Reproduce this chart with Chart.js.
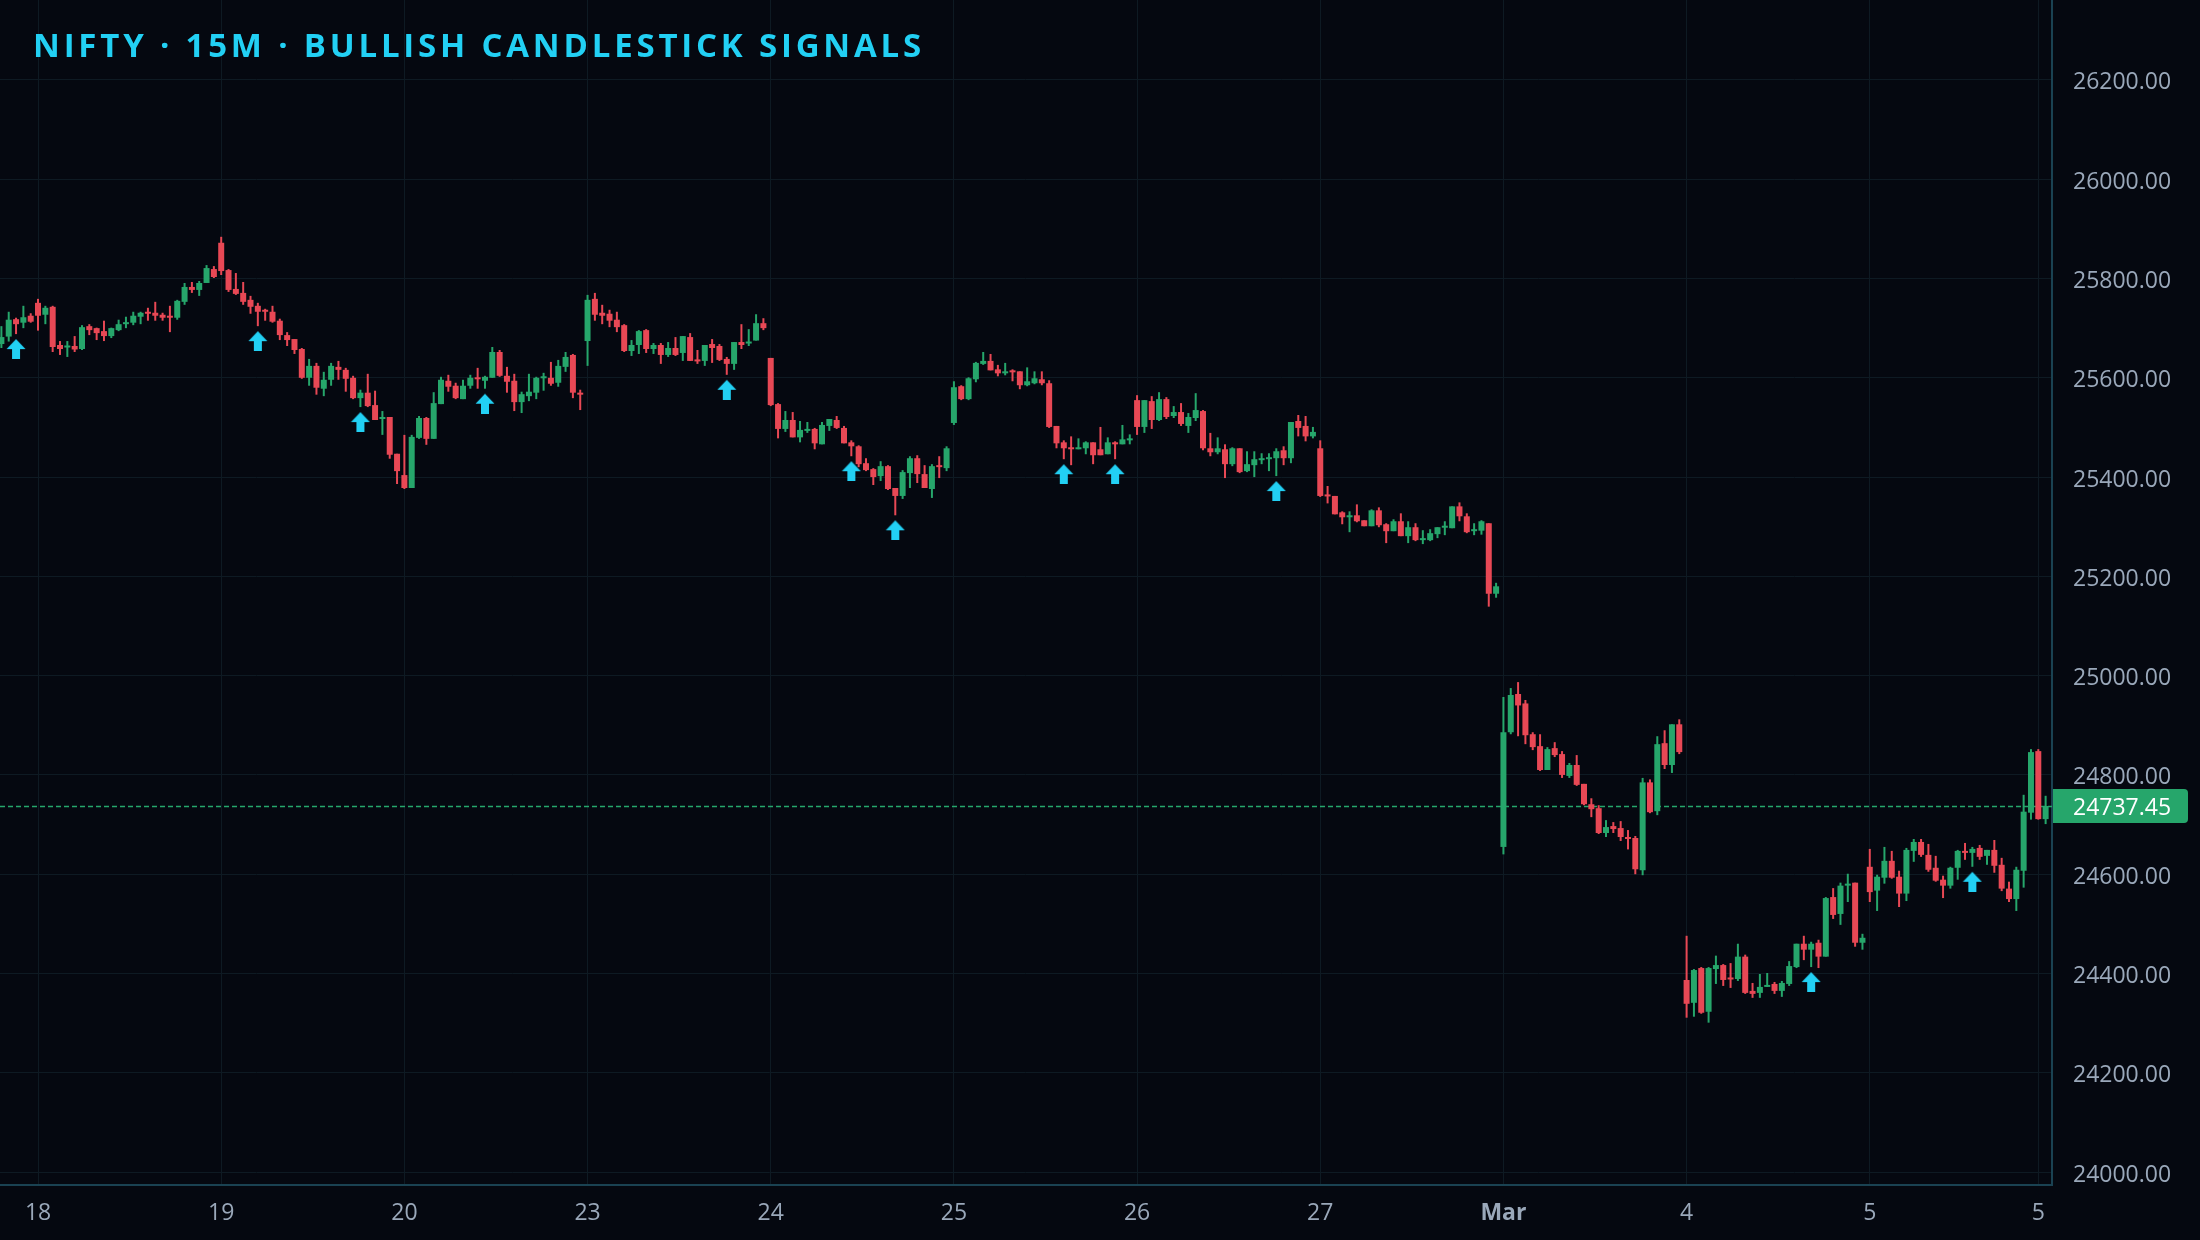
<!DOCTYPE html>
<html>
<head>
<meta charset="utf-8">
<script src="https://cdn.jsdelivr.net/npm/chart.js@4.4.1/dist/chart.umd.min.js"></script>
<style>
  html, body { margin: 0; padding: 0; background: #050810; }
  canvas { display: block; }
</style>
</head>
<body>
<canvas id="chart" width="2200" height="1240"></canvas>
<script>
// 15m candles, first visible bar sits at index -5 (tail of the previous session)
const firstIndex = -5;

const opens = [
  25668, 25683, 25718, 25711, 25725,
  // 18
  25751, 25727, 25743, 25666, 25661, 25664, 25658, 25704, 25700, 25694, 25684, 25696, 25708, 25711, 25723, 25731, 25731, 25727, 25723, 25721, 25753, 25783, 25777, 25791, 25819,
  // 19
  25872, 25817, 25779, 25771, 25757, 25745, 25737, 25733, 25715, 25686, 25678, 25658, 25600, 25624, 25578, 25596, 25622, 25616, 25600, 25559, 25570, 25545, 25517, 25521, 25447,
  // 20
  25404, 25378, 25479, 25519, 25477, 25547, 25594, 25584, 25557, 25584, 25600, 25594, 25600, 25652, 25604, 25594, 25551, 25563, 25570, 25599, 25600, 25590, 25622, 25646, 25570,
  // 23
  25674, 25759, 25731, 25729, 25717, 25706, 25654, 25666, 25696, 25658, 25666, 25646, 25660, 25650, 25682, 25636, 25634, 25668, 25664, 25638, 25628, 25672, 25669, 25675, 25710,
  // 24
  25640, 25547, 25497, 25515, 25480, 25493, 25497, 25466, 25503, 25515, 25499, 25470, 25462, 25428, 25416, 25402, 25422, 25378, 25362, 25408, 25438, 25406, 25376, 25424, 25418,
  // 25
  25509, 25583, 25557, 25597, 25628, 25634, 25617, 25609, 25613, 25613, 25585, 25589, 25597, 25589, 25503, 25470, 25460, 25456, 25458, 25470, 25456, 25446, 25470, 25466, 25474,
  // 26
  25555, 25501, 25553, 25515, 25557, 25523, 25531, 25503, 25519, 25533, 25458, 25450, 25456, 25426, 25458, 25412, 25424, 25434, 25436, 25438, 25454, 25438, 25513, 25503, 25482,
  // 27
  25458, 25364, 25362, 25329, 25319, 25323, 25313, 25301, 25333, 25305, 25291, 25311, 25281, 25299, 25273, 25273, 25285, 25298, 25297, 25341, 25321, 25291, 25292, 25307, 25165,
  // Mar
  24655, 24886, 24963, 24944, 24882, 24858, 24810, 24854, 24842, 24798, 24820, 24782, 24741, 24733, 24683, 24697, 24693, 24675, 24673, 24608, 24785, 24727, 24864, 24820, 24902,
  // 4
  24387, 24341, 24411, 24323, 24409, 24417, 24390, 24389, 24434, 24365, 24361, 24373, 24379, 24365, 24379, 24413, 24460, 24448, 24462, 24434, 24554, 24520, 24577, 24583, 24462,
  // 5
  24615, 24567, 24593, 24627, 24595, 24561, 24647, 24665, 24639, 24613, 24589, 24577, 24613, 24647, 24643, 24653, 24637, 24649, 24619, 24571, 24550, 24607, 24724,
  24848, 24711,
];

const highs = [
  25704, 25733, 25721, 25745, 25730,
  25759, 25745, 25745, 25674, 25674, 25684, 25706, 25708, 25701, 25715, 25701, 25717, 25723, 25733, 25733, 25741, 25753, 25731, 25745, 25757, 25791, 25793, 25795, 25827, 25825,
  25884, 25819, 25811, 25793, 25765, 25751, 25739, 25745, 25719, 25692, 25678, 25660, 25638, 25630, 25612, 25630, 25634, 25620, 25604, 25576, 25608, 25574, 25533, 25521, 25447,
  25485, 25485, 25523, 25521, 25571, 25602, 25606, 25590, 25596, 25606, 25620, 25604, 25662, 25656, 25622, 25608, 25572, 25608, 25602, 25610, 25632, 25636, 25652, 25648, 25576,
  25767, 25771, 25747, 25737, 25733, 25708, 25676, 25696, 25698, 25670, 25670, 25672, 25682, 25684, 25690, 25656, 25666, 25678, 25668, 25642, 25672, 25708, 25698, 25728, 25720,
  25640, 25549, 25533, 25531, 25513, 25511, 25499, 25511, 25517, 25523, 25503, 25474, 25464, 25438, 25418, 25432, 25424, 25378, 25414, 25442, 25444, 25424, 25426, 25442, 25462,
  25593, 25585, 25601, 25632, 25652, 25648, 25626, 25630, 25617, 25613, 25621, 25613, 25613, 25595, 25503, 25474, 25482, 25478, 25472, 25470, 25501, 25480, 25472, 25505, 25486,
  25565, 25555, 25563, 25571, 25561, 25543, 25549, 25529, 25569, 25535, 25489, 25480, 25466, 25460, 25458, 25452, 25452, 25448, 25448, 25458, 25462, 25511, 25525, 25523, 25501,
  25474, 25382, 25362, 25331, 25331, 25345, 25313, 25335, 25339, 25307, 25315, 25327, 25311, 25307, 25293, 25295, 25299, 25311, 25341, 25349, 25327, 25307, 25313, 25307, 25187,
  24957, 24975, 24987, 24951, 24886, 24882, 24856, 24866, 24848, 24824, 24840, 24782, 24753, 24739, 24709, 24705, 24707, 24689, 24677, 24794, 24791, 24878, 24890, 24902, 24912,
  24476, 24409, 24413, 24413, 24436, 24419, 24421, 24460, 24438, 24381, 24399, 24401, 24383, 24385, 24425, 24460, 24476, 24464, 24468, 24554, 24572, 24583, 24601, 24583, 24480,
  24651, 24599, 24655, 24647, 24607, 24653, 24671, 24671, 24661, 24637, 24597, 24615, 24649, 24663, 24655, 24659, 24649, 24669, 24633, 24585, 24615, 24760, 24852,
  24852, 24758,
];

const lows = [
  25660, 25673, 25688, 25700, 25711,
  25695, 25708, 25652, 25646, 25642, 25652, 25656, 25686, 25676, 25674, 25680, 25694, 25700, 25706, 25708, 25715, 25715, 25715, 25692, 25717, 25747, 25771, 25765, 25791, 25801,
  25807, 25773, 25767, 25747, 25729, 25704, 25715, 25711, 25676, 25664, 25648, 25598, 25584, 25566, 25563, 25584, 25596, 25572, 25557, 25541, 25541, 25515, 25485, 25437, 25386,
  25376, 25378, 25477, 25465, 25477, 25547, 25572, 25557, 25557, 25578, 25578, 25578, 25600, 25602, 25570, 25533, 25529, 25553, 25557, 25574, 25584, 25582, 25612, 25559, 25535,
  25624, 25715, 25708, 25702, 25692, 25652, 25644, 25648, 25650, 25648, 25628, 25642, 25644, 25634, 25634, 25628, 25624, 25630, 25634, 25606, 25616, 25658, 25664, 25675, 25696,
  25543, 25478, 25491, 25480, 25470, 25489, 25456, 25466, 25493, 25497, 25468, 25442, 25420, 25412, 25384, 25392, 25374, 25323, 25356, 25378, 25388, 25378, 25358, 25398, 25412,
  25505, 25555, 25555, 25591, 25626, 25615, 25603, 25605, 25593, 25577, 25583, 25587, 25585, 25499, 25458, 25436, 25424, 25456, 25446, 25426, 25444, 25446, 25436, 25466, 25466,
  25485, 25489, 25497, 25513, 25517, 25519, 25503, 25489, 25513, 25454, 25442, 25446, 25398, 25422, 25408, 25410, 25400, 25426, 25412, 25402, 25424, 25428, 25482, 25472, 25478,
  25360, 25347, 25325, 25305, 25289, 25309, 25301, 25301, 25299, 25267, 25291, 25281, 25267, 25271, 25265, 25271, 25277, 25283, 25297, 25311, 25287, 25283, 25284, 25139, 25157,
  24640, 24882, 24878, 24862, 24850, 24808, 24810, 24836, 24794, 24794, 24778, 24739, 24715, 24681, 24675, 24683, 24667, 24650, 24600, 24598, 24723, 24719, 24812, 24804, 24842,
  24311, 24313, 24319, 24301, 24379, 24375, 24371, 24385, 24359, 24351, 24351, 24373, 24359, 24353, 24375, 24411, 24427, 24413, 24411, 24434, 24510, 24498, 24544, 24454, 24448,
  24544, 24526, 24581, 24591, 24534, 24546, 24625, 24635, 24605, 24585, 24552, 24571, 24589, 24629, 24615, 24629, 24619, 24603, 24566, 24544, 24526, 24573, 24710,
  24710, 24701,
];

const closes = [
  25682, 25717, 25708, 25722, 25713,
  25725, 25741, 25662, 25658, 25663, 25657, 25702, 25696, 25690, 25684, 25700, 25708, 25711, 25725, 25731, 25729, 25725, 25721, 25721, 25755, 25783, 25777, 25791, 25821, 25803,
  25815, 25777, 25769, 25753, 25743, 25733, 25733, 25713, 25686, 25676, 25656, 25600, 25624, 25580, 25596, 25624, 25616, 25598, 25559, 25570, 25543, 25515, 25520, 25445, 25412,
  25378, 25481, 25519, 25477, 25549, 25596, 25582, 25559, 25584, 25600, 25597, 25602, 25652, 25604, 25592, 25551, 25567, 25572, 25600, 25602, 25588, 25624, 25642, 25570, 25566,
  25757, 25727, 25725, 25715, 25702, 25654, 25666, 25694, 25658, 25666, 25646, 25660, 25646, 25684, 25634, 25633, 25666, 25660, 25636, 25628, 25672, 25666, 25672, 25710, 25700,
  25545, 25497, 25515, 25480, 25495, 25497, 25468, 25505, 25517, 25499, 25468, 25462, 25426, 25414, 25400, 25422, 25376, 25362, 25410, 25438, 25406, 25378, 25422, 25420, 25458,
  25581, 25557, 25599, 25630, 25634, 25615, 25609, 25613, 25611, 25585, 25593, 25599, 25589, 25501, 25468, 25458, 25456, 25460, 25470, 25444, 25444, 25470, 25466, 25476, 25476,
  25501, 25555, 25515, 25557, 25521, 25531, 25507, 25521, 25535, 25458, 25450, 25458, 25426, 25458, 25410, 25426, 25436, 25438, 25438, 25452, 25438, 25511, 25499, 25482, 25491,
  25362, 25361, 25325, 25319, 25323, 25311, 25301, 25333, 25303, 25291, 25311, 25281, 25299, 25273, 25275, 25287, 25299, 25299, 25341, 25321, 25289, 25293, 25311, 25165, 25180,
  24886, 24961, 24940, 24880, 24856, 24810, 24852, 24840, 24800, 24820, 24780, 24741, 24731, 24683, 24695, 24691, 24675, 24671, 24610, 24785, 24725, 24862, 24820, 24902, 24846,
  24339, 24407, 24321, 24411, 24417, 24387, 24388, 24434, 24361, 24359, 24373, 24377, 24365, 24381, 24415, 24460, 24448, 24460, 24434, 24552, 24518, 24577, 24581, 24462, 24472,
  24564, 24595, 24627, 24593, 24561, 24649, 24665, 24639, 24609, 24587, 24577, 24613, 24647, 24643, 24651, 24635, 24649, 24617, 24571, 24550, 24609, 24726, 24846,
  24711, 24737.45,
];

// session starts (bar index) and their axis labels
const dayStarts = [0, 25, 50, 75, 100, 125, 150, 175, 200, 225, 250, 273];
const dayLabels = ["18", "19", "20", "23", "24", "25", "26", "27", "Mar", "4", "5", "5"];

// bars flagged with a bullish signal
const signalBars = [-3, 30, 44, 61, 94, 111, 117, 140, 147, 169, 242, 264];

const priceTicks = [24000, 24200, 24400, 24600, 24800, 25000, 25200, 25400, 25600, 25800, 26000, 26200];

const UP = "#26a66b";
const DOWN = "#e84855";
const CYAN = "#22d0f4";
const GRID = "#0e1a23";
const AXIS = "#1a4252";
const LABEL = "#9aa8ba";

Chart.defaults.font.family = "'Open Sans', 'Noto Sans', sans-serif";

const barX = opens.map((o, i) => i + firstIndex);
const barColors = opens.map((o, i) => (closes[i] >= o ? UP : DOWN));
const lastPrice = closes[closes.length - 1];

// arrow marker, drawn in the lower half of the image so it hangs below the bar's low
function makeArrow() {
  const c = document.createElement("canvas");
  c.width = 20;
  c.height = 50;
  const g = c.getContext("2d");
  g.fillStyle = CYAN;
  g.beginPath();
  g.moveTo(10, 30);
  g.lineTo(19.5, 40);
  g.lineTo(14, 40);
  g.lineTo(14, 50);
  g.lineTo(6, 50);
  g.lineTo(6, 40);
  g.lineTo(0.5, 40);
  g.closePath();
  g.fill();
  return c;
}

// axes should not push the plot area in
function noPadding(axis) {
  axis.paddingTop = 0;
  axis.paddingBottom = 0;
  axis.paddingLeft = 0;
  axis.paddingRight = 0;
}

// price line, price tag and title
const overlay = {
  id: "overlay",
  beforeDatasetsDraw(chart) {
    const { ctx, chartArea, scales } = chart;
    const y = Math.round(scales.y.getPixelForValue(lastPrice)) + 0.5;
    ctx.save();
    ctx.strokeStyle = UP;
    ctx.lineWidth = 1.5;
    ctx.setLineDash([5, 3]);
    ctx.beginPath();
    ctx.moveTo(chartArea.left, y);
    ctx.lineTo(chartArea.right, y);
    ctx.stroke();
    ctx.restore();
  },
  afterDraw(chart) {
    const { ctx, chartArea, scales } = chart;
    const y = scales.y.getPixelForValue(lastPrice);
    ctx.save();
    ctx.fillStyle = UP;
    ctx.beginPath();
    ctx.roundRect(chartArea.right + 1, y - 17, 135, 34, [0, 4, 4, 0]);
    ctx.fill();
    ctx.fillStyle = "#ffffff";
    ctx.font = "23px 'Open Sans'";
    ctx.textBaseline = "middle";
    ctx.textAlign = "left";
    ctx.fillText(lastPrice.toFixed(2), chartArea.right + 21, y + 2);

    ctx.fillStyle = CYAN;
    ctx.font = "700 33px 'Open Sans'";
    ctx.letterSpacing = "3.8px";
    ctx.textBaseline = "alphabetic";
    ctx.fillText("NIFTY · 15M · BULLISH CANDLESTICK SIGNALS", 33, 57);
    ctx.restore();
  },
};

new Chart(document.getElementById("chart"), {
  type: "bar",
  data: {
    datasets: [
      {
        label: "wick",
        data: barX.map((x, i) => ({ x: x, y: [lows[i], highs[i]] })),
        backgroundColor: barColors,
        barThickness: 2,
        grouped: false,
        inflateAmount: 0,
        order: 3,
      },
      {
        label: "body",
        data: barX.map((x, i) => ({ x: x, y: [opens[i], closes[i]] })),
        backgroundColor: barColors,
        barThickness: 6,
        minBarLength: 2,
        grouped: false,
        inflateAmount: 0,
        order: 2,
      },
      {
        type: "scatter",
        label: "signal",
        data: signalBars.map((k) => ({ x: k, y: lows[k - firstIndex] })),
        pointStyle: makeArrow(),
        order: 1,
      },
    ],
  },
  options: {
    responsive: false,
    animation: false,
    events: [],
    layout: { padding: 0, autoPadding: false },
    plugins: {
      legend: { display: false },
      tooltip: { enabled: false },
    },
    scales: {
      x: {
        type: "linear",
        offset: false,
        min: -5.19,
        max: 274.87,
        afterBuildTicks: (axis) => {
          axis.ticks = dayStarts.map((v) => ({ value: v }));
        },
        afterFit: (axis) => {
          axis.height = 55;
          noPadding(axis);
        },
        grid: { color: GRID, drawTicks: false, offset: false },
        border: { color: AXIS, width: 2 },
        ticks: {
          color: LABEL,
          padding: 15,
          autoSkip: false,
          maxRotation: 0,
          font: (ctx) => ({
            size: 23,
            weight: ctx.tick && ctx.tick.label === "Mar" ? "bold" : "normal",
          }),
          callback: (value, index) => dayLabels[index],
        },
      },
      y: {
        position: "right",
        min: 23974,
        max: 26361,
        afterBuildTicks: (axis) => {
          axis.ticks = priceTicks.map((v) => ({ value: v }));
        },
        afterFit: (axis) => {
          axis.width = 148;
          noPadding(axis);
        },
        grid: { color: GRID, drawTicks: false },
        border: { color: AXIS, width: 2 },
        ticks: {
          color: LABEL,
          padding: 21,
          labelOffset: 3,
          font: { size: 23 },
          callback: (value) => Number(value).toFixed(2),
        },
      },
    },
  },
  plugins: [overlay],
});
</script>
</body>
</html>
